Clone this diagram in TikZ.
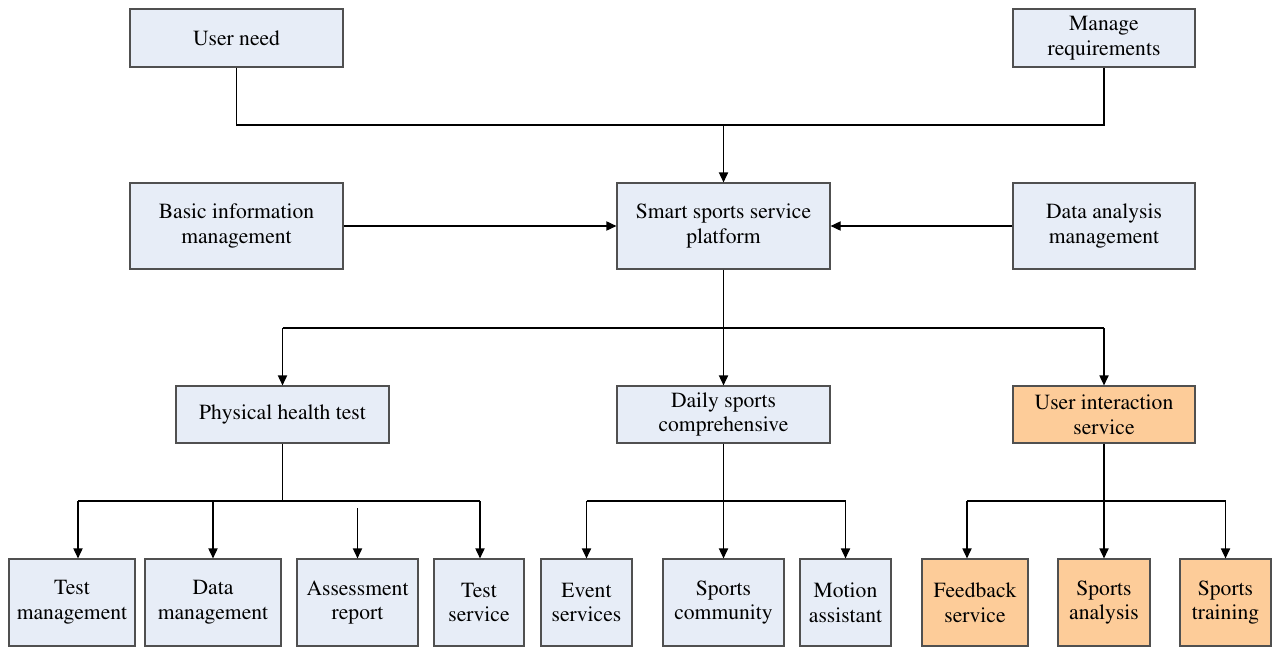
\documentclass[tikz,border=0pt]{standalone}
\usepackage[T1]{fontenc}
\usepackage{mathptmx}
\usetikzlibrary{arrows.meta, positioning}

\definecolor{paleblue}{RGB}{231,237,247}
\definecolor{paleorange}{RGB}{253,204,153}
\definecolor{edgegray}{RGB}{80,80,80}

\begin{document}
\begin{tikzpicture}[x=0.5pt, y=-0.5pt, >={Triangle[length=5pt,width=4.6pt]},
        block/.style={rectangle, draw=edgegray, line width=0.6pt, fill=paleblue, align=center, inner sep=0pt, font=\fontsize{10.8}{12.4}\selectfont},
        top_block/.style={block, minimum width=106.5pt, minimum height=29pt},
        mid_block/.style={block, minimum width=106.5pt, minimum height=43pt},
        side_block/.style={block, minimum width=91pt},
        sub_block/.style={block, minimum height=28.5pt},
        leaf_block/.style={block, minimum height=43.5pt},
        orange_block/.style={fill=paleorange},
        bus/.style={draw, line width=0.6pt},
        line/.style={draw, ->, line width=0.6pt}]

        \useasboundingbox (0,0) rectangle (1272,647);

        % Nodes
        \node [top_block] (user_need) at (236.5,38) {User need};
        \node [top_block, side_block] (manage_req) at (1104,38) {Manage\\requirements};

        \node [mid_block] (basic_info) at (236.5,226) {Basic information\\management};
        \node [mid_block] (platform) at (723.5,226) {Smart sports service\\platform};
        \node [mid_block, side_block] (data_analysis) at (1104,226) {Data analysis\\management};

        \node [sub_block, minimum width=106.5pt] (health_test) at (282.5,414.5) {Physical health test};
        \node [sub_block, minimum width=106.5pt] (daily_sports) at (723.5,414.5) {Daily sports\\comprehensive};
        \node [sub_block, minimum width=91pt, orange_block] (interaction) at (1104,414.5) {User interaction\\service};

        \node [leaf_block, minimum width=63pt] (test_mgmt) at (72,602.5) {Test\\management};
        \node [leaf_block, minimum width=68pt] (data_mgmt) at (213,602.5) {Data\\management};
        \node [leaf_block, minimum width=60.5pt] (assess_report) at (357.5,602.5) {Assessment\\report};
        \node [leaf_block, minimum width=45pt] (test_service) at (479,602.5) {Test\\service};
        \node [leaf_block, minimum width=45.5pt] (event_services) at (586.5,602.5) {Event\\services};
        \node [leaf_block, minimum width=60.5pt] (sports_comm) at (723.5,602.5) {Sports\\community};
        \node [leaf_block, minimum width=45.5pt] (motion_assist) at (845.5,602.5) {Motion\\assistant};
        \node [leaf_block, minimum width=53pt, orange_block] (feedback) at (975,602.5) {Feedback\\service};
        \node [leaf_block, minimum width=46pt, orange_block] (sports_analysis) at (1104,602.5) {Sports\\analysis};
        \node [leaf_block, minimum width=45.5pt, orange_block] (sports_training) at (1225.5,602.5) {Sports\\training};

        % Paths
        \coordinate (need_bus) at (user_need.south |- 0,125);
        \path [bus] (user_need.south) -- (need_bus) -| (manage_req.south);
        \path [line] (need_bus -| platform.north) -- (platform.north);
        \path [line] (basic_info.east) -- (platform.west);
        \path [line] (data_analysis.west) -- (platform.east);

        \coordinate (platform_bus) at (platform.south |- 0,328);
        \path [bus] (platform.south) -- (platform_bus);
        \path [bus] (platform_bus -| health_test.north) -- (platform_bus -| interaction.north);
        \path [line] (platform_bus -| health_test.north) -- (health_test.north);
        \path [line] (platform_bus) -- (daily_sports.north);
        \path [line] (platform_bus -| interaction.north) -- (interaction.north);

        % lower level, first group
        \coordinate (health_bus) at (health_test.south |- 0,501);
        \coordinate (test_drop) at ([xshift=3pt]test_mgmt.north |- health_bus);
        \coordinate (service_drop) at ([xshift=0.5pt]test_service.north |- health_bus);
        \path [bus] (health_test.south) -- (health_bus);
        \path [bus] (test_drop) -- (service_drop);
        \path [line] (test_drop) -- ([xshift=3pt]test_mgmt.north);
        \path [line] (health_bus -| data_mgmt.north) -- (data_mgmt.north);
        \path [line] (service_drop) -- ([xshift=0.5pt]test_service.north);
        \coordinate (report_top) at (assess_report.north |- 0,508);
        \path [line] (report_top) -- (assess_report.north);

        % second group
        \coordinate (daily_bus) at (daily_sports.south |- 0,501);
        \path [bus] (daily_sports.south) -- (daily_bus);
        \path [bus] (daily_bus -| event_services.north) -- (daily_bus -| motion_assist.north);
        \path [line] (daily_bus -| event_services.north) -- (event_services.north);
        \path [line] (daily_bus) -- (sports_comm.north);
        \path [line] (daily_bus -| motion_assist.north) -- (motion_assist.north);

        % third group
        \coordinate (interaction_bus) at (interaction.south |- 0,501);
        \coordinate (feedback_drop) at ([xshift=-4pt]feedback.north |- interaction_bus);
        \path [bus] (interaction.south) -- (interaction_bus);
        \path [bus] (feedback_drop) -- (interaction_bus -| sports_training.north);
        \path [line] (feedback_drop) -- ([xshift=-4pt]feedback.north);
        \path [line] (interaction_bus) -- (sports_analysis.north);
        \path [line] (interaction_bus -| sports_training.north) -- (sports_training.north);
\end{tikzpicture}
\end{document}
